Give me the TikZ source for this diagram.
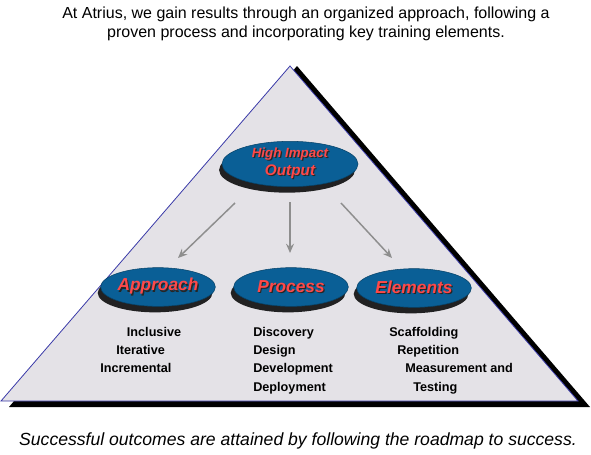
\documentclass[tikz,border=0pt]{standalone}
\usepackage{fontspec}
\setmainfont{Liberation Sans}
\usetikzlibrary{shapes.geometric,shadows,arrows.meta}

\definecolor{pyrfill}{HTML}{E4E2E7}
\definecolor{pyredge}{HTML}{3A3AA8}
\definecolor{ovalblue}{HTML}{0A5F96}
\definecolor{lblred}{HTML}{FF4848}
\definecolor{arrgray}{HTML}{8E8E8E}

\newcommand{\shadowed}[1]{\rlap{\kern0.9pt\raisebox{-0.9pt}{\textcolor{black!85}{#1}}}#1}

\begin{document}
\begin{tikzpicture}[
  x=0.75pt,
  y=-0.75pt,
  oval/.style={
      ellipse,
      draw=ovalblue!70!black,
      fill=ovalblue,
      inner sep=0pt,
      minimum width=86pt,
      minimum height=29pt,
      text=lblred,
      font=\bfseries\itshape\fontsize{13}{15}\selectfont,
      drop shadow={shadow xshift=-2.2pt,
                   shadow yshift=-4.5pt,
                   fill=black,
                   opacity=0.85}
  },
  items/.style={
      anchor=north west,
      align=left,
      inner sep=0pt,
      font=\bfseries\fontsize{9.5}{13.7}\selectfont
  },
  caption/.style={
      align=center,
      font=\fontsize{12}{14.5}\selectfont
  },
  arrow/.style={
      -{Stealth[length=7pt,width=6pt,inset=2.5pt]},
      draw=arrgray,
      line width=1.1pt
  }
]

\useasboundingbox (0,0) rectangle (591,454);

% ==================================================
% Title text
% ==================================================

\node[caption] (title) at (306,24)
      {At Atrius, we gain results through an organized approach, following a\\
       proven process and incorporating key training elements.};

% ==================================================
% Pyramid
% ==================================================

\path[fill=black]
      (297,66) -- (590,407) -- (9,407) -- cycle;

\path[fill=pyrfill, draw=pyredge, line width=0.6pt]
      (290,66) -- (578,401) -- (1,401) -- cycle;

% ==================================================
% Top oval
% ==================================================

\node[oval,
      minimum width=102pt,
      minimum height=31pt,
      align=center,
      font=\bfseries\itshape]
      (hio) at (290,164)
      {\fontsize{10}{13}\selectfont\shadowed{High Impact}\\[1.5pt]
       \fontsize{11.5}{13}\selectfont\shadowed{Output}};

% ==================================================
% Lower ovals
% ==================================================

\node[oval] (app)  at (158,287) {\raisebox{-2pt}{\shadowed{Approach}}};

\node[oval] (proc) at (291,287) {\raisebox{-2pt}{\shadowed{Process}}};

\node[oval] (elem) at (414,288) {\raisebox{-2pt}{\shadowed{Elements}}};

% ==================================================
% Item lists
% ==================================================

\node[items] (applist) at (100,327)
      {\hspace*{20pt}Inclusive\\
       \hspace*{12pt}Iterative\\
       Incremental};

\node[items] (proclist) at (253,327)
      {Discovery\\
       Design\\
       Development\\
       Deployment};

\node[items] (elemlist) at (389,327)
      {Scaffolding\\
       \hspace*{6pt}Repetition\\
       \hspace*{12pt}Measurement and\\
       \hspace*{18pt}Testing};

% ==================================================
% Arrows
% ==================================================

\draw[arrow]
      ([shift={(-55,39)}]hio.center)
      -- ([shift={(20,-29)}]app.center);

\draw[arrow]
      ([shift={(0,38)}]hio.center)
      -- ([shift={(-1,-34)}]proc.center);

\draw[arrow]
      ([shift={(51,39)}]hio.center)
      -- ([shift={(-22,-30)}]elem.center);

% ==================================================
% Closing text
% ==================================================

\node[caption,
      font=\itshape\fontsize{13.2}{15}\selectfont]
      (closing) at (298,441)
      {Successful outcomes are attained by following the roadmap to success.};

\end{tikzpicture}
\end{document}
